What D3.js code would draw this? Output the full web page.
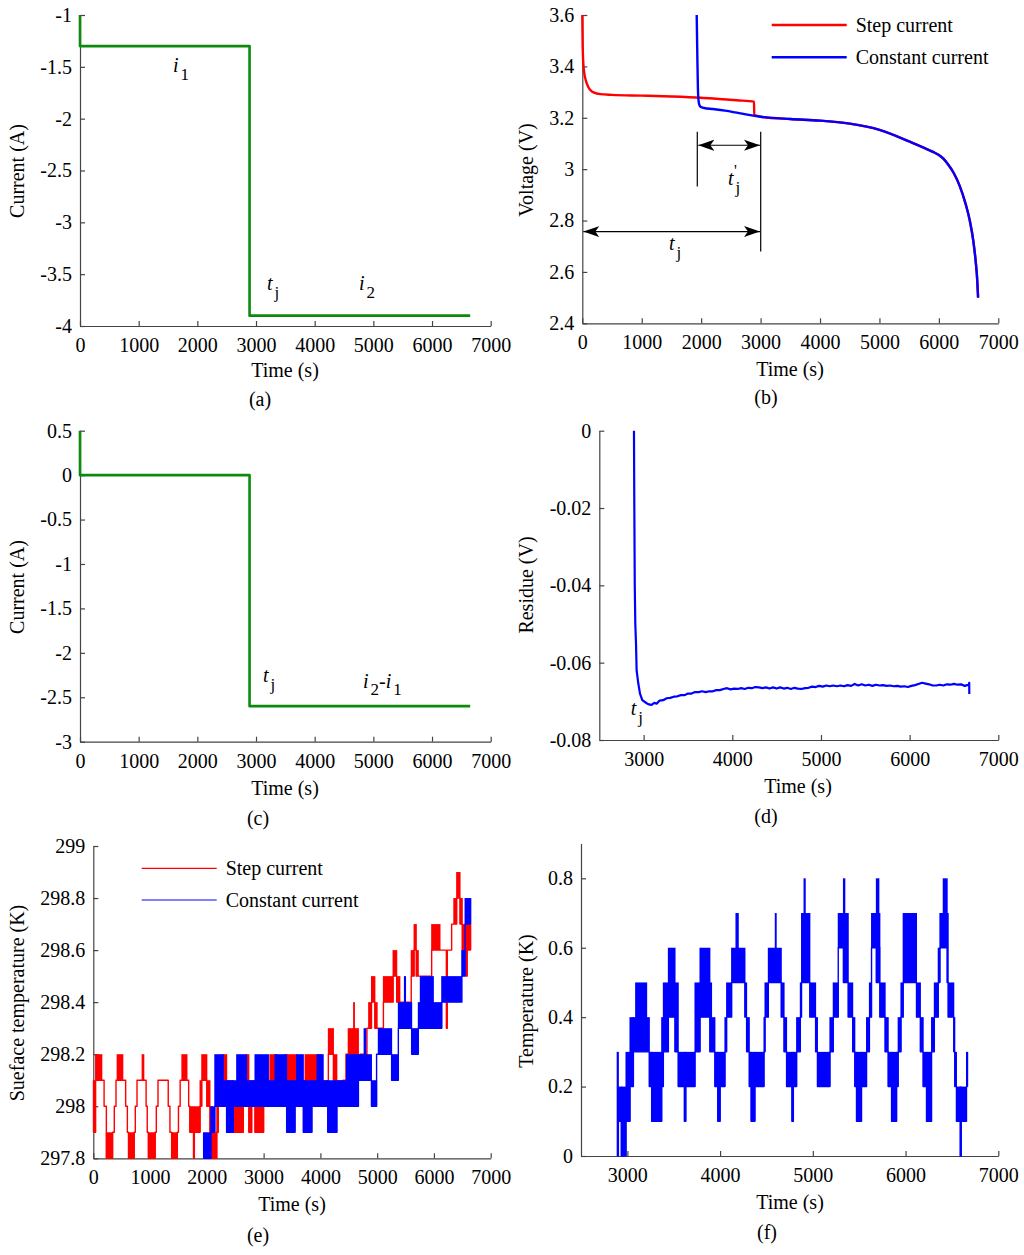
<!DOCTYPE html>
<html>
<head>
<meta charset="utf-8">
<script src="https://cdn.jsdelivr.net/npm/d3@7"></script>
<style>
    body { margin: 0; background: #fff; }
    svg { display: block; }
    text { font-family: "Liberation Serif", "Times New Roman", serif; fill: #000; }
</style>
</head>
<body>
<svg id="fig" width="1024" height="1255"></svg>
<script>

// ---- tick values
const timeTicks = [0, 1000, 2000, 3000, 4000, 5000, 6000, 7000];
const timeTicksLate = [3000, 4000, 5000, 6000, 7000];
const ticksCurrentA = [-4, -3.5, -3, -2.5, -2, -1.5, -1];
const ticksVoltage = [2.4, 2.6, 2.8, 3, 3.2, 3.4, 3.6];
const ticksCurrentC = [-3, -2.5, -2, -1.5, -1, -0.5, 0, 0.5];
const ticksResidue = [-0.08, -0.06, -0.04, -0.02, 0];
const ticksSurface = [297.8, 298, 298.2, 298.4, 298.6, 298.8, 299];
const ticksTempDiff = [0, 0.2, 0.4, 0.6, 0.8];

// ---- (a) step current, (c) current difference  [time, current]
const currentStep = [[0, -1], [0, -1.3], [2890, -1.3], [2890, -3.9], [6650, -3.9]];
const currentDiff = [[0, 0.5], [0, 0], [2890, 0], [2890, -2.6], [6650, -2.6]];

// ---- (b) voltage [time, V]
const voltageStep = [[0, 3.6], [5, 3.5], [15, 3.42], [30, 3.38], [60, 3.345], [100, 3.32], [150, 3.305],
    [200, 3.298], [300, 3.292], [500, 3.289], [1000, 3.286], [1500, 3.283], [2000, 3.278], [2300, 3.273],
    [2600, 3.268], [2890, 3.263], [2893, 3.212], [2950, 3.207], [3000, 3.204], [3500, 3.195], [4000, 3.189],
    [4500, 3.177], [5000, 3.153], [5500, 3.108], [5900, 3.067], [6000, 3.055], [6080, 3.04], [6150, 3.02],
    [6250, 2.985], [6350, 2.935], [6450, 2.865], [6520, 2.8], [6580, 2.72], [6620, 2.64], [6645, 2.57], [6660, 2.5]];
const voltageConst = [[1925, 3.6], [1935, 3.45], [1945, 3.32], [1955, 3.27], [1970, 3.25], [1990, 3.243],
    [2050, 3.238], [2200, 3.234], [2400, 3.228], [2600, 3.22], [2800, 3.211], [3000, 3.204], [3500, 3.195],
    [4000, 3.189], [4500, 3.177], [5000, 3.153], [5500, 3.108], [5900, 3.067], [6000, 3.055], [6080, 3.04],
    [6150, 3.02], [6250, 2.985], [6350, 2.935], [6450, 2.865], [6520, 2.8], [6580, 2.72], [6620, 2.64],
    [6645, 2.57], [6660, 2.5]];
// vertical marker lines [t, V from, V to] and double arrows [t from, t to, V]
const markLines = [[1935, 3.146, 2.932], [3002, 3.146, 2.679]];
const markArrows = [[1952, 2990, 3.093], [17, 2990, 2.757]];

// ---- (d) residue [time, V]
const residue = [[2891, 0], [2895, -0.02], [2900, -0.04], [2906, -0.05], [2914, -0.055], [2921, -0.062],
    [2940, -0.0654], [2959, -0.068], [2985, -0.0697], [3034, -0.0705], [3060, -0.0708], [3090, -0.0709],
    [3120, -0.0704], [3147, -0.0706], [3180, -0.0698], [3220, -0.0697], [3260, -0.0692], [3300, -0.0691],
    [3340, -0.0688], [3380, -0.0687], [3420, -0.0684], [3460, -0.0684], [3500, -0.068], [3540, -0.068],
    [3580, -0.0676], [3620, -0.0676], [3660, -0.0674], [3700, -0.0676], [3740, -0.0674], [3780, -0.0674],
    [3820, -0.0671], [3860, -0.0671], [3900, -0.0668], [3940, -0.0666], [3980, -0.0669], [4020, -0.0667],
    [4060, -0.0668], [4100, -0.0666], [4140, -0.0668], [4180, -0.0665], [4220, -0.0666], [4260, -0.0663],
    [4300, -0.0664], [4340, -0.0666], [4380, -0.0664], [4420, -0.0667], [4460, -0.0664], [4500, -0.0667],
    [4540, -0.0664], [4580, -0.0667], [4620, -0.0665], [4660, -0.0668], [4700, -0.0665], [4740, -0.0667],
    [4780, -0.0668], [4820, -0.0666], [4860, -0.0665], [4900, -0.0662], [4940, -0.0663], [4980, -0.066],
    [5020, -0.0662], [5060, -0.0659], [5100, -0.0661], [5140, -0.0659], [5180, -0.0661], [5220, -0.0659],
    [5260, -0.0661], [5300, -0.0658], [5340, -0.066], [5380, -0.0655], [5420, -0.0659], [5460, -0.0656],
    [5500, -0.0659], [5540, -0.0657], [5580, -0.066], [5620, -0.0657], [5660, -0.0659], [5700, -0.0658],
    [5740, -0.066], [5780, -0.0659], [5820, -0.0661], [5860, -0.066], [5900, -0.0662], [5940, -0.0661],
    [5980, -0.0663], [6020, -0.066], [6060, -0.0658], [6100, -0.0655], [6140, -0.0652], [6180, -0.0654],
    [6220, -0.0656], [6260, -0.0659], [6300, -0.0659], [6340, -0.0657], [6380, -0.0659], [6420, -0.0656],
    [6460, -0.0657], [6500, -0.0655], [6540, -0.0657], [6580, -0.0656], [6620, -0.066], [6650, -0.0658],
    [6668, -0.0657], [6672, -0.0652], [6673, -0.0681]];

// ---- (e) surface temperature, quantised 0.1 K; each entry [start time, low, high]
// low == high: flat level, low < high: reading flickers between those levels
const surfaceStep = [[0, 297.9, 298.1], [40, 298.1, 298.2], [150, 298.1, 298.1], [190, 298.0, 298.0],
    [230, 297.8, 297.9], [340, 297.9, 297.9], [370, 298.0, 298.0], [400, 298.1, 298.1], [420, 298.1, 298.2],
    [520, 298.1, 298.1], [570, 298.0, 298.0], [600, 297.9, 297.9], [620, 297.8, 297.9], [720, 297.9, 297.9],
    [740, 298.0, 298.0], [770, 298.1, 298.1], [860, 298.1, 298.2], [890, 298.1, 298.1], [930, 298.0, 298.0],
    [950, 297.9, 297.9], [970, 297.8, 297.9], [1090, 297.9, 297.9], [1110, 298.0, 298.0], [1140, 298.1, 298.1],
    [1320, 298.0, 298.0], [1350, 297.9, 297.9], [1380, 297.8, 297.9], [1480, 297.9, 297.9], [1500, 298.0, 298.0],
    [1530, 298.1, 298.1], [1560, 298.1, 298.2], [1650, 298.1, 298.1], [1680, 298.0, 298.0], [1700, 297.9, 298.0],
    [1765, 297.8, 297.9], [1780, 297.9, 298.0], [1880, 298.0, 298.1], [1910, 298.1, 298.2], [2000, 298.0, 298.1],
    [2055, 297.9, 298.0], [2085, 297.8, 297.9], [2175, 297.9, 298.0], [2200, 298.0, 298.1],
    [2270, 298.1, 298.2], [2350, 298.0, 298.1], [2466, 297.9, 298.0], [2642, 298.0, 298.1], [2700, 298.1, 298.2],
    [2740, 297.9, 298.1], [2790, 298.0, 298.1], [2848, 297.9, 298.0], [3000, 298.0, 298.1], [3110, 298.1, 298.2],
    [3230, 298.0, 298.1], [3377, 298.1, 298.2], [3580, 298.0, 298.1], [3730, 298.1, 298.2], [4020, 298.0, 298.1],
    [4140, 298.2, 298.3], [4230, 298.1, 298.2], [4290, 298.0, 298.1], [4400, 298.1, 298.1],
    [4450, 298.2, 298.2], [4490, 298.2, 298.3], [4585, 298.3, 298.4], [4600, 298.2, 298.3], [4670, 298.1, 298.2],
    [4700, 298.2, 298.2], [4820, 298.3, 298.3], [4850, 298.3, 298.4], [4900, 298.4, 298.5], [4960, 298.3, 298.4],
    [5000, 298.3, 298.3], [5110, 298.4, 298.5], [5280, 298.5, 298.6], [5345, 298.4, 298.5], [5400, 298.4, 298.4],
    [5600, 298.5, 298.6], [5650, 298.6, 298.7], [5690, 298.5, 298.6], [5725, 298.5, 298.5], [5960, 298.6, 298.7],
    [6107, 298.6, 298.6], [6220, 298.3, 298.6], [6235, 298.6, 298.6], [6312, 298.7, 298.7], [6350, 298.7, 298.8],
    [6400, 298.8, 298.9], [6460, 298.7, 298.8], [6500, 298.6, 298.7], [6570, 298.5, 298.7], [6585, 298.6, 298.7]];
const surfaceStepEnd = 6650;
const surfaceConst = [[1940, 297.8, 297.9], [2070, 297.9, 298.0], [2140, 298.0, 298.2], [2290, 298.0, 298.1],
    [2348, 297.9, 298.1], [2466, 298.0, 298.1], [2525, 298.0, 298.2], [2700, 298.0, 298.1], [2848, 298.0, 298.2],
    [3085, 298.0, 298.1], [3200, 298.0, 298.2], [3406, 297.9, 298.1], [3553, 298.0, 298.1], [3580, 298.0, 298.2],
    [3700, 297.9, 298.1], [3850, 298.0, 298.1], [3940, 298.0, 298.2], [4050, 298.0, 298.1], [4130, 297.9, 298.1],
    [4290, 298.0, 298.1], [4460, 298.0, 298.2], [4670, 298.1, 298.2], [4770, 298.1, 298.3], [4800, 298.1, 298.2],
    [4900, 298.0, 298.1], [4990, 298.2, 298.2], [5020, 298.2, 298.3], [5255, 298.1, 298.2], [5373, 298.3, 298.4],
    [5480, 298.3, 298.5], [5500, 298.3, 298.4], [5608, 298.2, 298.3], [5725, 298.3, 298.4], [5760, 298.3, 298.5],
    [5990, 298.3, 298.4], [6137, 298.4, 298.5], [6490, 298.5, 298.6], [6548, 298.7, 298.8]];
const surfaceConstEnd = 6650;

// ---- (f) temperature difference [start time, low, high]
const tempDiff = [[2890, 0, 0.3], [2903, 0.1, 0.2], [2935, 0, 0.2], [2985, 0.1, 0.3], [3028, 0.2, 0.4],
    [3065, 0.3, 0.4], [3089, 0.3, 0.5], [3208, 0.3, 0.4], [3237, 0.2, 0.3], [3262, 0.1, 0.3], [3370, 0.2, 0.4],
    [3388, 0.3, 0.5], [3442, 0.4, 0.6], [3514, 0.3, 0.5], [3549, 0.2, 0.3], [3615, 0.1, 0.3], [3630, 0.2, 0.3],
    [3729, 0.3, 0.5], [3783, 0.4, 0.6], [3890, 0.3, 0.5], [3908, 0.3, 0.4], [3944, 0.2, 0.3], [3975, 0.1, 0.3],
    [4000, 0.2, 0.3], [4052, 0.3, 0.4], [4070, 0.4, 0.5], [4124, 0.5, 0.6], [4171, 0.5, 0.7], [4196, 0.5, 0.6],
    [4268, 0.4, 0.5], [4286, 0.3, 0.4], [4315, 0.2, 0.3], [4335, 0.1, 0.3], [4375, 0.2, 0.3], [4473, 0.3, 0.4],
    [4484, 0.4, 0.5], [4520, 0.5, 0.6], [4595, 0.5, 0.7], [4605, 0.5, 0.6], [4660, 0.4, 0.5], [4690, 0.3, 0.4],
    [4717, 0.2, 0.3], [4775, 0.1, 0.3], [4790, 0.2, 0.3], [4825, 0.3, 0.4], [4865, 0.4, 0.5], [4878, 0.5, 0.7],
    [4905, 0.5, 0.8], [4918, 0.5, 0.7], [4968, 0.4, 0.5], [5030, 0.3, 0.4], [5050, 0.2, 0.3], [5184, 0.3, 0.4],
    [5220, 0.4, 0.5], [5274, 0.6, 0.7], [5330, 0.5, 0.8], [5345, 0.5, 0.7], [5382, 0.4, 0.5], [5430, 0.3, 0.4],
    [5453, 0.2, 0.3], [5471, 0.1, 0.3], [5525, 0.2, 0.3], [5579, 0.3, 0.4], [5610, 0.4, 0.5], [5633, 0.6, 0.7],
    [5685, 0.5, 0.8], [5712, 0.6, 0.7], [5723, 0.4, 0.5], [5780, 0.3, 0.4], [5813, 0.2, 0.3], [5849, 0.1, 0.3],
    [5903, 0.2, 0.3], [5920, 0.3, 0.4], [5950, 0.4, 0.5], [5974, 0.5, 0.7], [6118, 0.4, 0.5], [6160, 0.3, 0.4],
    [6190, 0.2, 0.3], [6226, 0.1, 0.3], [6280, 0.3, 0.4], [6310, 0.4, 0.5], [6352, 0.5, 0.6], [6370, 0.6, 0.7],
    [6406, 0.6, 0.8], [6449, 0.5, 0.7], [6460, 0.4, 0.5], [6520, 0.3, 0.4], [6531, 0.2, 0.3], [6549, 0.1, 0.2],
    [6590, 0, 0.2], [6600, 0.1, 0.2], [6657, 0.2, 0.3]];
const tempDiffEnd = 6670;

const legendNames = ["Step current", "Constant current"];

const GREEN = "#0c8a0c", RED = "#ff0000", BLUE = "#0000ff", AXIS = "#444";

const svg = d3.select("#fig");
const fmt = d => String(+d.toFixed(3));

svg.append("defs").append("marker")
    .attr("id", "arr")
    .attr("viewBox", "0 -6 16 12")
    .attr("refX", 16).attr("refY", 0)
    .attr("markerWidth", 16).attr("markerHeight", 12)
    .attr("markerUnits", "userSpaceOnUse")
    .attr("orient", "auto-start-reverse")
    .append("path").attr("d", "M16,0L0,-5.5L4,0L0,5.5Z").attr("fill", "#000");

function panel(o) {
    const x = d3.scaleLinear().domain(o.xDomain).range([o.left, o.right]);
    const y = d3.scaleLinear().domain(o.yDomain).range([o.bottom, o.top]);
    const g = svg.append("g");

    const ax = g.append("g")
        .attr("transform", "translate(0," + o.bottom + ")")
        .call(d3.axisBottom(x).tickValues(o.xTicks).tickSizeInner(-5).tickSizeOuter(0).tickPadding(12).tickFormat(fmt));
    const ay = g.append("g")
        .attr("transform", "translate(" + o.left + ",0)")
        .call(d3.axisLeft(y).tickValues(o.yTicks).tickSizeInner(-5).tickSizeOuter(0).tickPadding(8).tickFormat(fmt));
    [ax, ay].forEach(a => {
        a.attr("font-family", null).attr("font-size", 20);
        a.selectAll("path, line").attr("stroke", AXIS).attr("stroke-width", 1.2);
        a.selectAll("text").attr("fill", "#000");
    });

    g.append("text").attr("x", o.xTitle[0]).attr("y", o.xTitle[1])
        .attr("text-anchor", "middle").attr("font-size", 20).text("Time (s)");
    g.append("text").attr("transform", "translate(" + o.yTitle[0] + "," + o.yTitle[1] + ") rotate(-90)")
        .attr("text-anchor", "middle").attr("font-size", 20).text(o.yLabel);
    g.append("text").attr("x", o.cap[0]).attr("y", o.cap[1])
        .attr("text-anchor", "middle").attr("font-size", 20).text(o.capText);

    return {g, x, y};
}

function drawLine(p, data, color, width, curve) {
    p.g.append("path")
        .datum(data)
        .attr("fill", "none")
        .attr("stroke", color)
        .attr("stroke-width", width)
        .attr("stroke-linejoin", "round")
        .attr("d", d3.line().curve(curve || d3.curveLinear).x(d => p.x(d[0])).y(d => p.y(d[1])));
}

// quantised trace: flat steps joined by verticals, flicker bands filled
function drawBlocks(p, segs, tEnd, color) {
    const blocks = segs.map((s, i) => ({
        t0: s[0], t1: i < segs.length - 1 ? segs[i + 1][0] : tEnd, lo: s[1], hi: s[2]
    }));
    const pts = [];
    blocks.forEach(b => { pts.push([b.t0, b.lo], [b.t1, b.lo]); });
    drawLine(p, pts, color, 1.4);
    p.g.append("g").selectAll("rect")
        .data(blocks.filter(b => b.hi > b.lo))
        .join("rect")
        .attr("x", b => p.x(b.t0) - 0.5)
        .attr("width", b => Math.max(1.5, p.x(b.t1) - p.x(b.t0) + 1))
        .attr("y", b => p.y(b.hi))
        .attr("height", b => p.y(b.lo) - p.y(b.hi))
        .attr("fill", color);
}

// italic letter with an upright subscript
function subLabel(p, t, v, main, sub) {
    const tx = p.g.append("text").attr("x", p.x(t)).attr("y", p.y(v)).attr("font-size", 20);
    tx.append("tspan").attr("font-style", "italic").text(main);
    tx.append("tspan").attr("dx", 2).attr("dy", 8).attr("font-size", 17).text(sub);
    return tx;
}

function legend(p, x0, y0, gap, colors, width) {
    colors.forEach((c, i) => {
        const yy = y0 + i * gap;
        p.g.append("line").attr("x1", x0).attr("x2", x0 + 75).attr("y1", yy).attr("y2", yy)
            .attr("stroke", c).attr("stroke-width", width);
        p.g.append("text").attr("x", x0 + 84).attr("y", yy + 7).attr("font-size", 20).text(legendNames[i]);
    });
}

// (a)
const pa = panel({left: 80, right: 490.7, top: 15, bottom: 326, xDomain: [0, 7000], yDomain: [-4, -1],
    xTicks: timeTicks, yTicks: ticksCurrentA, yLabel: "Current (A)",
    xTitle: [285, 377], yTitle: [24, 171], cap: [260, 406], capText: "(a)"});
drawLine(pa, currentStep, GREEN, 2.6);
subLabel(pa, 1585, -1.55, "i", "1");
subLabel(pa, 3187, -3.653, "t", "j");
subLabel(pa, 4755, -3.653, "i", "2");

// (b)
const pb = panel({left: 582.3, right: 998.3, top: 15, bottom: 323.3, xDomain: [0, 7000], yDomain: [2.4, 3.6],
    xTicks: timeTicks, yTicks: ticksVoltage, yLabel: "Voltage (V)",
    xTitle: [790, 376], yTitle: [533, 170], cap: [766, 404], capText: "(b)"});
drawLine(pb, voltageStep, RED, 2.4, d3.curveMonotoneX);
drawLine(pb, voltageConst, BLUE, 2.4, d3.curveMonotoneX);
markLines.forEach(m => {
    pb.g.append("line").attr("x1", pb.x(m[0])).attr("x2", pb.x(m[0]))
        .attr("y1", pb.y(m[1])).attr("y2", pb.y(m[2])).attr("stroke", "#000").attr("stroke-width", 1.2);
});
markArrows.forEach(m => {
    pb.g.append("line").attr("x1", pb.x(m[0])).attr("x2", pb.x(m[1]))
        .attr("y1", pb.y(m[2])).attr("y2", pb.y(m[2])).attr("stroke", "#000").attr("stroke-width", 1.2)
        .attr("marker-start", "url(#arr)").attr("marker-end", "url(#arr)");
});
subLabel(pb, 2452, 2.938, "t", "j");
pb.g.append("text").attr("x", pb.x(2452) + 6).attr("y", pb.y(2.938) - 9).attr("font-size", 16).text("'");
subLabel(pb, 1459, 2.685, "t", "j");
legend(pb, 771.7, 25, 32.3, [RED, BLUE], 2.4);

// (c)
const pc = panel({left: 80, right: 490.7, top: 430.7, bottom: 741.7, xDomain: [0, 7000], yDomain: [-3, 0.5],
    xTicks: timeTicks, yTicks: ticksCurrentC, yLabel: "Current (A)",
    xTitle: [285, 795], yTitle: [24, 587], cap: [258, 825], capText: "(c)"});
drawLine(pc, currentDiff, GREEN, 2.6);
subLabel(pc, 3119, -2.328, "t", "j");
const lbl = pc.g.append("text").attr("x", pc.x(4823)).attr("y", pc.y(-2.396)).attr("font-size", 20);
lbl.append("tspan").attr("font-style", "italic").text("i");
lbl.append("tspan").attr("dx", 2).attr("dy", 7).attr("font-size", 17).text("2");
lbl.append("tspan").attr("dy", -7).text("-");
lbl.append("tspan").attr("font-style", "italic").text("i");
lbl.append("tspan").attr("dx", 2).attr("dy", 7).attr("font-size", 17).text("1");

// (d)
const pd = panel({left: 599.3, right: 998.3, top: 430.7, bottom: 740, xDomain: [2500, 7000], yDomain: [-0.08, 0],
    xTicks: timeTicksLate, yTicks: ticksResidue, yLabel: "Residue (V)",
    xTitle: [798, 793], yTitle: [533, 585], cap: [766, 823], capText: "(d)"});
drawLine(pd, residue, BLUE, 2.2);
subLabel(pd, 2854, -0.0735, "t", "j");

// (e)
const pe = panel({left: 93.3, right: 490.7, top: 846, bottom: 1158.3, xDomain: [0, 7000], yDomain: [297.8, 299],
    xTicks: timeTicks, yTicks: ticksSurface, yLabel: "Sueface temperature (K)",
    xTitle: [292, 1211], yTitle: [24, 1003], cap: [258, 1242], capText: "(e)"});
drawBlocks(pe, surfaceStep, surfaceStepEnd, RED);
drawBlocks(pe, surfaceConst, surfaceConstEnd, BLUE);
legend(pe, 141.7, 868.3, 31.7, [RED, BLUE], 1.2);

// (f)
const pf = panel({left: 581, right: 998.3, top: 843.6, bottom: 1156, xDomain: [2500, 7000], yDomain: [0, 0.9],
    xTicks: timeTicksLate, yTicks: ticksTempDiff, yLabel: "Temperature (K)",
    xTitle: [790, 1209], yTitle: [533, 1001], cap: [767, 1239], capText: "(f)"});
drawBlocks(pf, tempDiff, tempDiffEnd, BLUE);

</script>
</body>
</html>
